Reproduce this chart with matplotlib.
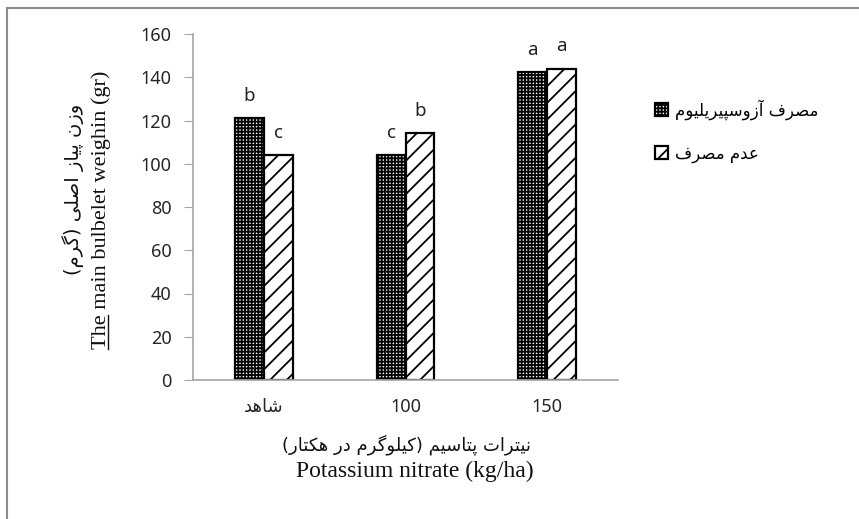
import numpy as np
import matplotlib
matplotlib.use('Agg')
import matplotlib.pyplot as plt
from matplotlib.lines import Line2D

# minimal Persian shaping: letter -> (isolated, final, initial, medial)
FORMS = {
    'ا': ('\uFE8D', '\uFE8E'), 'آ': ('\uFE81', '\uFE82'),
    'د': ('\uFEA9', '\uFEAA'), 'ر': ('\uFEAD', '\uFEAE'),
    'ز': ('\uFEAF', '\uFEB0'), 'و': ('\uFEED', '\uFEEE'),
    'پ': ('\uFB56', '\uFB57', '\uFB58', '\uFB59'),
    'ت': ('\uFE95', '\uFE96', '\uFE97', '\uFE98'),
    'س': ('\uFEB1', '\uFEB2', '\uFEB3', '\uFEB4'),
    'ش': ('\uFEB5', '\uFEB6', '\uFEB7', '\uFEB8'),
    'ص': ('\uFEB9', '\uFEBA', '\uFEBB', '\uFEBC'),
    'ع': ('\uFEC9', '\uFECA', '\uFECB', '\uFECC'),
    'ف': ('\uFED1', '\uFED2', '\uFED3', '\uFED4'),
    'ک': ('\uFB8E', '\uFB8F', '\uFB90', '\uFB91'),
    'گ': ('\uFB92', '\uFB93', '\uFB94', '\uFB95'),
    'ل': ('\uFEDD', '\uFEDE', '\uFEDF', '\uFEE0'),
    'م': ('\uFEE1', '\uFEE2', '\uFEE3', '\uFEE4'),
    'ن': ('\uFEE5', '\uFEE6', '\uFEE7', '\uFEE8'),
    'ه': ('\uFEE9', '\uFEEA', '\uFEEB', '\uFEEC'),
    'ی': ('\uFBFC', '\uFBFD', '\uFBFE', '\uFBFF'),
}


def fa(text):
    # only for pure Persian strings (digits/latin would be reversed too)
    if not any(ch in FORMS for ch in text):
        return text
    out = []
    for i, ch in enumerate(text):
        if ch not in FORMS:
            out.append(ch)
            continue
        prev = text[i - 1] if i > 0 else ''
        nxt = text[i + 1] if i + 1 < len(text) else ''
        jp = prev in FORMS and len(FORMS[prev]) == 4
        jn = nxt in FORMS and len(FORMS[ch]) == 4
        f = FORMS[ch]
        if jp and jn:
            out.append(f[3])
        elif jp:
            out.append(f[1])
        elif jn:
            out.append(f[2])
        else:
            out.append(f[0])
    s = ''.join(reversed(out))
    return s.translate(str.maketrans('()', ')('))


categories = ['شاهد', '100', '150']
series_names = ['مصرف آزوسپیریلیوم', 'عدم مصرف']
with_azo = [121, 104, 142.5]
without_azo = [104, 114, 144]
letters_with = ['b', 'c', 'a']
letters_without = ['c', 'b', 'a']

xlabel_fa = 'نیترات پتاسیم (کیلوگرم در هکتار)'
xlabel_en = 'Potassium nitrate (kg/ha)'
ylabel_fa = 'وزن پیاز اصلی (گرم)'
ylabel_en = 'The main bulbelet weighin (gr)'

plt.rcParams['hatch.linewidth'] = 1.3
W, H = 859, 519
fig = plt.figure(figsize=(W / 100, H / 100), dpi=100)
ax = fig.add_axes([193 / W, 1 - 380 / H, 425 / W, 346 / H])

x = np.arange(len(categories))
bw = 0.204
ax.bar(x - bw / 2, with_azo, bw, facecolor='white', edgecolor='black',
       hatch='+++++', linewidth=1.6, label=fa(series_names[0]))
ax.bar(x + bw / 2, without_azo, bw, facecolor='white', edgecolor='black',
       hatch='//', linewidth=1.6, label=fa(series_names[1]))

for xi, v, l in zip(x - bw / 2, with_azo, letters_with):
    ax.annotate(l, (xi, v), xytext=(0, 16), textcoords='offset points',
                ha='center', va='center', fontsize=13.5, family='Noto Sans', color='#222222')
for xi, v, l in zip(x + bw / 2, without_azo, letters_without):
    ax.annotate(l, (xi, v), xytext=(0, 16), textcoords='offset points',
                ha='center', va='center', fontsize=13.5, family='Noto Sans', color='#222222')

ax.set_xlim(-0.5, 2.5)
ax.set_ylim(0, 160)
ax.set_yticks(range(0, 161, 20))
ax.set_xticks(x)
ax.set_xticklabels([fa(c) for c in categories], family=['Noto Sans', 'DejaVu Sans'])
for s in ['top', 'right']:
    ax.spines[s].set_visible(False)
for s in ['left', 'bottom']:
    ax.spines[s].set_color('#a6a6a6')
    ax.spines[s].set_linewidth(1.2)
ax.tick_params(axis='y', direction='out', length=6.5, color='#a6a6a6', pad=9,
               labelsize=13, labelcolor='#262626')
ax.tick_params(axis='x', length=0, pad=13, labelsize=13, labelcolor='#262626')
for t in ax.get_yticklabels():
    t.set_family('Noto Sans')

# axis titles
fig.text(406 / W, 1 - 445 / H, fa(xlabel_fa), ha='center', va='center',
         fontsize=13, family='DejaVu Sans', color='#111111')
fig.text(415 / W, 1 - 471 / H, xlabel_en, ha='center', va='center',
         fontsize=17, family='Liberation Serif', color='#111111')
fig.text(73 / W, 1 - 189 / H, fa(ylabel_fa), ha='center', va='center', rotation=90,
         fontsize=14, family='DejaVu Sans', color='#111111')
yl = fig.text(101 / W, 1 - 210 / H, ylabel_en, ha='center', va='center', rotation=90,
              fontsize=16, family='Liberation Serif', color='#111111')

ax.legend(loc='upper left', bbox_to_anchor=(655 / W, 1 - 99 / H), bbox_transform=fig.transFigure,
          frameon=False, handlelength=0.8, handleheight=0.8,
          handletextpad=0.4, labelspacing=1.5, borderpad=0, borderaxespad=0,
          prop={'family': 'DejaVu Sans', 'size': 12})

# underline "The" in the rotated label
fig.canvas.draw()
r = fig.canvas.get_renderer()
bb = yl.get_window_extent(r)
tmp = fig.text(0, 0, 'The', fontsize=16, family='Liberation Serif')
tw = tmp.get_window_extent(r).width
tmp.remove()
ux = (bb.x1 - 3) / W
fig.add_artist(Line2D([ux, ux], [bb.y0 / H, (bb.y0 + tw) / H], transform=fig.transFigure,
                      color='#111111', linewidth=1))

# outer chart frame (only top and left visible)
fig.add_artist(Line2D([7 / W, 1], [1 - 8 / H, 1 - 8 / H], transform=fig.transFigure,
                      color='#8c8c8c', linewidth=1.5))
fig.add_artist(Line2D([7 / W, 7 / W], [0, 1 - 8 / H], transform=fig.transFigure,
                      color='#8c8c8c', linewidth=1.5))

fig.savefig('out.png', dpi=100)
